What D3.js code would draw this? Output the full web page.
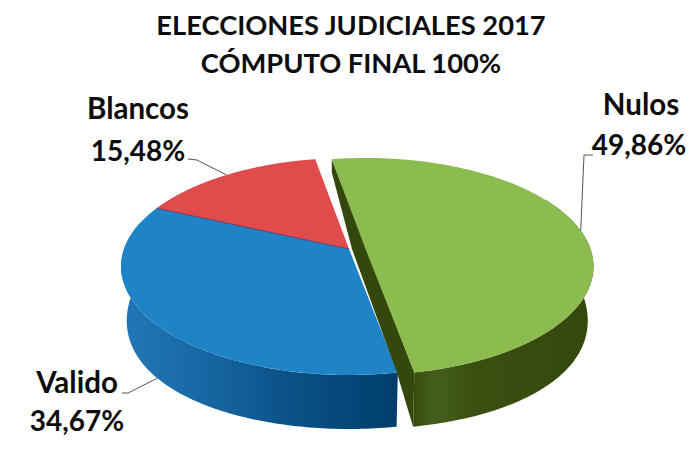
<!DOCTYPE html>
<html><head><meta charset="utf-8">
<script src="https://cdn.jsdelivr.net/npm/d3@7/dist/d3.min.js"></script>
<style>html,body{margin:0;padding:0;background:#fff}svg{display:block}text{font-family:Lato,"Open Sans",sans-serif;font-weight:700;fill:#0d0d0d}</style>
</head><body><svg id="c" width="700" height="462"></svg>
<script>
const titleLines = ["ELECCIONES JUDICIALES 2017", "CÓMPUTO FINAL 100%"];
const categories = ["Nulos", "Valido", "Blancos"];
const values = [49.86, 34.67, 15.48];
const valueLabels = ["49,86%", "34,67%", "15,48%"];
const topColors = ["#8cbb50", "#1f84c6", "#e04c4c"];

(function () {
const svg = d3.select("#c");
const rad = d3.scaleLinear().domain([0, 360]).range([0, 2 * Math.PI]);
const arcs = d3.pie().sort(null).startAngle(rad(-10)).endAngle(rad(350))(values);

// projected disc geometry
const P = 0.161, A = 105.7, B = 225, APEXY = 249;
const apexX = i => i === 0 ? 365.5 : 349;
const depth = v => 52 - 17 * v - 15 * v * v;
function rimTop(i, a) {
  const u = Math.sin(a), v = Math.cos(a), s = 1 / (1 + P * v);
  return [apexX(i) + B * u * s, APEXY - A * v * s];
}
function rimBottom(i, a) {
  const [x, y] = rimTop(i, a), v = Math.cos(a), cx = apexX(i);
  return [cx + (x - cx) * 0.975, y + depth(v)];
}
const samples = (a0, a1) => d3.range(0, 121).map(k => a0 + (a1 - a0) * k / 120);
const line = d3.line();

const defs = svg.append("defs");
function grad(id, x1, x2, stops) {
  const g = defs.append("linearGradient").attr("id", id).attr("gradientUnits", "userSpaceOnUse")
    .attr("x1", x1).attr("x2", x2).attr("y1", 0).attr("y2", 0);
  stops.forEach(s => g.append("stop").attr("offset", s[0]).attr("stop-color", s[1]));
}
grad("wb", 122, 397, [[0, "#2476b6"], [0.25, "#1a6aa8"], [0.6, "#0a5288"], [1, "#003e6c"]]);
grad("wg", 412, 594, [[0, "#34480d"], [0.12, "#46601a"], [0.35, "#3a4f10"], [1, "#34480d"]]);

function drawWall(i, a0, a1, fill) {
  const as = samples(a0, a1);
  const pts = as.map(a => rimTop(i, a)).concat(as.slice().reverse().map(a => rimBottom(i, a)));
  svg.append("path").attr("d", line(pts) + "Z").attr("fill", fill);
}
function drawTop(i, d) {
  const pts = [[apexX(i), APEXY]].concat(samples(d.startAngle, d.endAngle).map(a => rimTop(i, a)));
  svg.append("path").attr("d", line(pts) + "Z").attr("fill", topColors[i]);
}

// blue wall, blue top, red top
drawWall(1, arcs[1].startAngle, rad(285), "url(#wb)");
drawTop(1, arcs[1]);
drawTop(2, arcs[2]);
svg.append("path").attr("d", line([[apexX(2), APEXY], rimTop(2, arcs[2].startAngle)]))
  .attr("stroke", "#6a3a6a").attr("stroke-width", 1).attr("fill", "none");

// green cut face, wall, top
const g = arcs[0];
const farTop = rimTop(0, g.startAngle);
const nearBlue = rimTop(1, arcs[1].startAngle);
svg.append("path").attr("fill", "#34480d").attr("d", line([
  farTop, [farTop[0], farTop[1] + 13], [apexX(1) + 3, APEXY],
  [nearBlue[0] - 1, nearBlue[1]], rimBottom(0, g.endAngle), rimTop(0, g.endAngle)]) + "Z");
drawWall(0, rad(60), g.endAngle, "url(#wg)");
drawTop(0, g);

// leaders
const mid = d => (d.startAngle + d.endAngle) / 2;
const leader = pts => svg.append("path").attr("d", line(pts)).attr("fill", "none")
  .attr("stroke", "#555").attr("stroke-width", 1);
const r0 = rimTop(0, mid(arcs[0])), r1 = rimBottom(1, mid(arcs[1])), r2 = rimTop(2, mid(arcs[2]));
leader([[593, 155], [584, 155], r0]);
leader([[122, 393], [128, 393], r1]);
leader([[188, 159], [197, 160], r2]);

// text
const centered = (s, x, y, size) => svg.append("text").attr("x", x).attr("y", y)
  .attr("text-anchor", "middle").attr("font-size", size).text(s);
centered(titleLines[0], 351, 35, 27.3);
centered(titleLines[1], 351, 73, 27.3);
centered(categories[0], 641, 115, 29.5);
centered(valueLabels[0], 639, 155, 28);
centered(categories[1], 77, 393, 29.5);
centered(valueLabels[1], 77, 431, 28);
centered(categories[2], 138, 119, 29.5);
centered(valueLabels[2], 138, 161, 28);
})();
</script></body></html>
